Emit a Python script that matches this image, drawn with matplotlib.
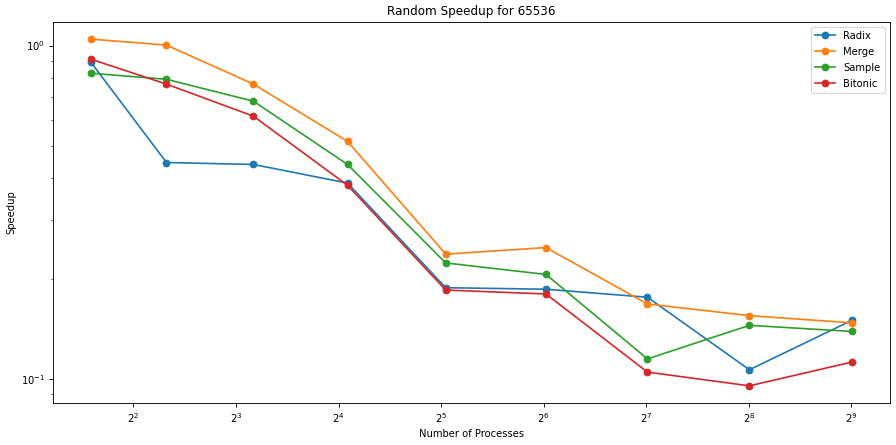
import matplotlib
matplotlib.use('Agg')
import matplotlib.pyplot as plt

# number of processes (x axis, log base 2)
procs = [3, 5, 9, 17, 33, 65, 129, 257, 513]

# speedup values
radix = [0.891, 0.446, 0.440, 0.387, 0.188, 0.186, 0.176, 0.1067, 0.150]
merge = [1.045, 1.003, 0.766, 0.516, 0.237, 0.248, 0.168, 0.155, 0.1475]
sample = [0.826, 0.792, 0.681, 0.440, 0.223, 0.206, 0.115, 0.145, 0.139]
bitonic = [0.910, 0.766, 0.614, 0.381, 0.185, 0.180, 0.105, 0.0955, 0.1125]

series = [('Radix', radix), ('Merge', merge), ('Sample', sample), ('Bitonic', bitonic)]

plt.rcParams['font.size'] = 9

fig, ax = plt.subplots(figsize=(896 / 80, 445 / 80), dpi=80)
fig.subplots_adjust(left=0.059, right=0.993, top=0.951, bottom=0.094)

for name, vals in series:
    ax.plot(procs, vals, marker='o', label=name)

ax.set_xscale('log', base=2)
ax.set_yscale('log')
ax.set_title('Random Speedup for 65536')
ax.set_xlabel('Number of Processes')
ax.set_ylabel('Speedup')
ax.legend(loc='upper right', labelspacing=0.6)

fig.savefig('out.png', dpi=80)
